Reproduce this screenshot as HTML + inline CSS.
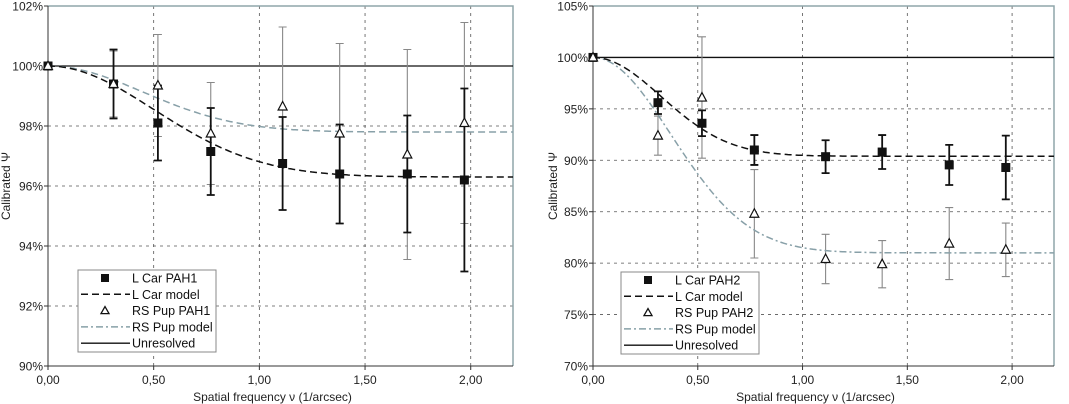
<!DOCTYPE html>
<html><head><meta charset="utf-8">
<style>
html,body{margin:0;padding:0;background:#fff;}
svg{display:block;font-family:"Liberation Sans",Arial,sans-serif;}
</style></head>
<body>
<svg id="chart" width="1069" height="404" viewBox="0 0 1069 404" xmlns="http://www.w3.org/2000/svg"></svg>
<script>
// Shared data
const xFreq = [0, 0.31, 0.52, 0.77, 1.11, 1.38, 1.70, 1.97];
const xTicks = [0, 0.5, 1.0, 1.5, 2.0];
const xTickLabels = ["0,00", "0,50", "1,00", "1,50", "2,00"];

// Left panel (PAH1)
const lCar1 = [100, 99.4, 98.1, 97.15, 96.75, 96.4, 96.4, 96.2];
const lCar1Err = [0, 1.15, 1.25, 1.45, 1.55, 1.65, 1.95, 3.05];
const rsPup1 = [100, 99.4, 99.35, 97.75, 98.65, 97.75, 97.05, 98.1];
const rsPup1Err = [0, 1.1, 1.7, 1.7, 2.65, 3.0, 3.5, 3.35];
const lCar1Model = [96.3, 0.71];   // [plateau %, width]
const rsPup1Model = [97.8, 0.635];
const yTicks1 = [90, 92, 94, 96, 98, 100, 102];

// Right panel (PAH2)
const lCar2 = [100, 95.6, 93.6, 91.0, 90.35, 90.8, 89.55, 89.3];
const lCar2Err = [0, 1.1, 1.25, 1.45, 1.6, 1.65, 1.95, 3.1];
const rsPup2 = [100, 92.4, 96.1, 84.8, 80.4, 79.9, 81.9, 81.3];
const rsPup2Err = [0, 1.9, 5.9, 4.3, 2.4, 2.3, 3.5, 2.6];
const lCar2Model = [90.4, 0.458];
const rsPup2Model = [81.0, 0.525];
const yTicks2 = [70, 75, 80, 85, 90, 95, 100, 105];

const NS = "http://www.w3.org/2000/svg";
const svg = document.getElementById("chart");
function mk(tag, attrs, parent) {
  const e = document.createElementNS(NS, tag);
  for (const k in attrs) e.setAttribute(k, attrs[k]);
  (parent || svg).appendChild(e);
  return e;
}

function panel(cfg) {
  const g = mk("g", {});
  
  
  const L = cfg.left, R = cfg.right, T = 6, B = 366;
  const xs = v => L + v / 2.2 * (R - L);
  const ys = v => B - (v - cfg.ymin) / (cfg.ymax - cfg.ymin) * (B - T);

  cfg.yTicks.forEach(t => {
    if (t === cfg.ymin || t === cfg.ymax) return;
    const l = mk("line", {x1: L, x2: R, y1: ys(t), y2: ys(t), stroke: "#555", "stroke-width": 0.8, "stroke-dasharray": "3,4"}, g);
    
    
  });
  xTicks.forEach(t => {
    if (t === 0) return;
    const l = mk("line", {x1: xs(t), x2: xs(t), y1: T, y2: B, stroke: "#555", "stroke-width": 0.8, "stroke-dasharray": "3,4"}, g);
    
    
  });
  const fr = mk("path", {d: `M${L},${T} H${R} V${B}`, fill: "none", stroke: "#8fa5aa", "stroke-width": 1.5}, g);
  
  
  const ax = mk("path", {d: `M${L},${T} V${B} H${R}`, fill: "none", stroke: "#333", "stroke-width": 1}, g);
  
  

  cfg.yTicks.forEach(t => {
    mk("line", {x1: L - 4, x2: L, y1: ys(t), y2: ys(t), stroke: "#333"}, g);
    const tx = mk("text", {x: L - 5, y: ys(t) + 4.5, "text-anchor": "end", "font-size": 12, fill: "#222"}, g);
    tx.textContent = t + "%";
    
    
  });
  xTicks.forEach((t, i) => {
    mk("line", {x1: xs(t), x2: xs(t), y1: B, y2: B + 4, stroke: "#333"}, g);
    const tx = mk("text", {x: xs(t), y: B + 18, "text-anchor": "middle", "font-size": 12, fill: "#222"}, g);
    tx.textContent = xTickLabels[i];
    
    
  });
  const xt = mk("text", {x: (L + R) / 2 - 8, y: 401, "text-anchor": "middle", "font-size": 12, fill: "#222"}, g);
  xt.textContent = "Spatial frequency ν (1/arcsec)";
  
  
  const yt = mk("text", {x: 0, y: 0, "text-anchor": "middle", "font-size": 12, fill: "#222", transform: `translate(${cfg.ytitleX},${(T + B) / 2}) rotate(-90)`}, g);
  yt.textContent = "Calibrated Ψ";
  
  

  const un = mk("line", {x1: L, x2: R, y1: ys(100), y2: ys(100), stroke: "#111", "stroke-width": 1.3}, g);
  
  

  function model(p, color, dash, name) {
    let d = "";
    for (let i = 0; i <= 220; i++) {
      const x = i / 100;
      const y = 100 - (100 - p[0]) * (1 - Math.exp(-(x / p[1]) * (x / p[1])));
      d += (i ? "L" : "M") + xs(x).toFixed(1) + "," + ys(y).toFixed(1);
    }
    const m = mk("path", {d, fill: "none", stroke: color, "stroke-width": 1.5, "stroke-dasharray": dash}, g);
    
    
  }

  function errs(vals, err, color, w, name) {
    vals.forEach((v, i) => {
      if (!err[i]) return;
      const x = xs(xFreq[i]), y1 = ys(v + err[i]), y2 = ys(v - err[i]);
      const e = mk("path", {d: `M${x},${y1}V${y2}M${x - 4},${y1}H${x + 4}M${x - 4},${y2}H${x + 4}`, stroke: color, "stroke-width": w, fill: "none"}, g);
      
      
    });
  }
  errs(cfg.pup, cfg.pupErr, "#888", 1.1, 'rs-pup-error-bar');
  model(cfg.pupModel, "#88a0a8", cfg.pupDash, 'rs-pup-model-line');
  model(cfg.carModel, "#111", "7,4", 'l-car-model-line');
  errs(cfg.car, cfg.carErr, "#111", 1.8, 'l-car-error-bar');

  cfg.car.forEach((v, i) => {
    const s = mk("rect", {x: xs(xFreq[i]) - 4.5, y: ys(v) - 4.5, width: 9, height: 9, fill: "#111"}, g);
    
    
  });
  cfg.pup.forEach((v, i) => {
    const x = xs(xFreq[i]), y = ys(v);
    const t = mk("path", {d: `M${x},${y - 5}L${x + 4.5},${y + 3.5}L${x - 4.5},${y + 3.5}Z`, fill: "#fff", stroke: "#111", "stroke-width": 1.2}, g);
    
    
  });

  const lg = mk("g", {}, g);
  
  
  const bx = cfg.legX, by = cfg.legY;
  mk("rect", {x: bx, y: by, width: 138, height: 82, fill: "#fff", stroke: "#888", "stroke-width": 1}, lg);
  cfg.legLabels.forEach((lab, i) => {
    const ry = by + 8 + i * 16.3;
    const sx = bx + 3, ex = bx + 52;
    if (i === 0) mk("rect", {x: bx + 23, y: ry - 4, width: 8, height: 8, fill: "#111"}, lg);
    if (i === 1) mk("line", {x1: sx, x2: ex, y1: ry, y2: ry, stroke: "#111", "stroke-width": 1.5, "stroke-dasharray": "7,4"}, lg);
    if (i === 2) mk("path", {d: `M${bx + 27},${ry - 4}L${bx + 31},${ry + 3}L${bx + 23},${ry + 3}Z`, fill: "#fff", stroke: "#111", "stroke-width": 1.3}, lg);
    if (i === 3) mk("line", {x1: sx, x2: ex, y1: ry, y2: ry, stroke: "#88a0a8", "stroke-width": 1.5, "stroke-dasharray": "7,3,2,3"}, lg);
    if (i === 4) mk("line", {x1: sx, x2: ex, y1: ry, y2: ry, stroke: "#111", "stroke-width": 1.3}, lg);
    const tx = mk("text", {x: bx + 54, y: ry + 4.5, "font-size": 12.5, fill: "#111"}, lg);
    tx.textContent = lab;
    
    
  });
}

panel({name: 'pah1-chart', left: 48, right: 513, ymin: 90, ymax: 102, yTicks: yTicks1, ytitleX: 10,
  car: lCar1, carErr: lCar1Err, pup: rsPup1, pupErr: rsPup1Err, carModel: lCar1Model, pupModel: rsPup1Model,
  pupDash: "7,4", legX: 78, legY: 270,
  legLabels: ["L Car PAH1", "L Car model", "RS Pup PAH1", "RS Pup model", "Unresolved"]});
panel({name: 'pah2-chart', left: 593, right: 1054, ymin: 70, ymax: 105, yTicks: yTicks2, ytitleX: 557,
  car: lCar2, carErr: lCar2Err, pup: rsPup2, pupErr: rsPup2Err, carModel: lCar2Model, pupModel: rsPup2Model,
  pupDash: "7,3,2,3", legX: 621, legY: 272,
  legLabels: ["L Car PAH2", "L Car model", "RS Pup PAH2", "RS Pup model", "Unresolved"]});
</script>
</body></html>
